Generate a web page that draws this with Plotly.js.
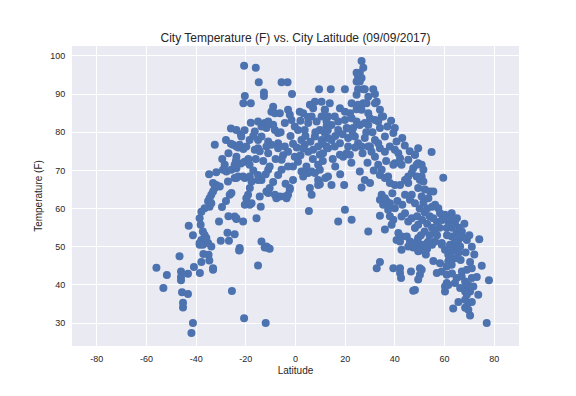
<!DOCTYPE html>
<html>
<head>
<meta charset="utf-8">
<script src="https://cdn.plot.ly/plotly-3.0.1.min.js"></script>
<style>html,body{margin:0;padding:0;background:#fff;}#chart{width:576px;height:396px;}</style>
</head>
<body>
<div id="chart"></div>
<script>
// Latitude of each city (degrees)
const latitude = [
-56,-53.2,-51.8,-46.7,-46.1,-46.1,-46.1,-43.3,-40.9,-38.5,-37.9,-37.1,-35,-34.7,-33.2,-33.2,-33.9,-38.6,-45.7,-43.3,-45.3,-45.3,-41.3,-41.9,
-43,-41.3,-33.2,-31.9,-30.5,-32.5,-33.2,-33.9,-34.6,-35.2,-33.9,-34.6,-36.6,-37.9,-38.6,-38.2,-37.3,-36.6,-35.9,-37.9,-38.6,-37.3,-35.2,-31.9,-34.8,-29.6,-30.8,-30.1,-32.5,
-28.5,-29.2,-27.8,-25.8,-23.8,-24.5,-23.8,-25.2,-23.8,-24.5,-27.2,-26.5,-25.8,-24.5,-23.8,-27.4,-24.5,-26.8,-22.5,-25.6,-22.7,-20.7,
-23.8,-21.8,-22.5,-19.8,-20.7,-20.4,-21,-18,-18,
-23,-21,-23.8,-23.1,-24,-22,-20.5,-19,-18.5,-21.1,-20.4,-19.1,-19.8,-20.4,-18.4,-17.7,-23.8,-21.1,-22.5,
-28,-26,-27,-29.5,-22,-20.5,-26,-27,-28,
-16,-14.8,-12.7,-12.7,-15.1,-12.4,-11,-13.7,-11.7,-16.4,-15.1,-13.7,-11,-15.1,-9.7,-16.4,-14.4,-11.7,-11,-11,-10.4,-15.1,-13.7,-15.1,-18.4,-17.7,-18.4,-11.7,-10.4,-11,-14.4,-14,-15.7,-13.7,-11.7,-11,-12.4,-10.4,-15.1,-12,
-9,-9.7,-8.3,-17,-18.5,-16,-13,-17,-12,
-6.3,-3,-2.3,-5.6,-3.2,-1.4,-8.3,-7,-4.3,-1.6,-0.3,-7,-4.3,-7,-5,-3,-5.6,-0.3,-1,-7,-5.6,-1,-2.3,-2.3,-3,-8.3,-7.7,-6.3,-4.3,-3.6,
-9,-6,-2,-1,-8,-3,-9,-4,
1.7,3.1,5.8,7.1,7.8,9.5,1,2.4,3.7,1,4.4,5.1,2.4,3.1,6.5,7.8,9.1,9.8,9.1,9.8,9.1,5.8,6.5,5.4,
3.7,5.1,6.5,8.5,10.5,11.8,13.1,12.5,9.8,7.8,10.5,13.1,
3.1,5.1,7.1,9.1,9.8,11.1,12.5,
2,4,6,8,5,0.5,2,7,11,12,
14.2,19.9,13.8,17.9,19.9,11.8,
15.8,17.2,19.9,22.6,24.6,25.9,23.2,20.6,17.2,14.5,12.5,
11.8,14.5,17.9,21.2,23.9,25.2,
13.1,15.8,21.2,20.6,19.2,17.9,21.9,
13.1,14.5,19.6,19.9,17.2,22.6,
16,18,15,11,13,16,19,10.5,
26.6,27.3,24.6,25.9,25.2,26.6,24.6,25.9,25.2,27.3,27.9,24.6,29.3,22.6,25.2,27.3,28.6,24.6,26.6,29.3,27.9,29.3,27.9,25.9,27.9,26.6,29.3,
26.6,29.3,30.6,32,34,
22,23,28.5,21,24,27,22.5,29,
31.3,32,32.7,32,34,30,34.7,35.3,32,33.3,34,40,39.4,36,32,33.3,40.7,30,30,34,39.4,38.7,36,34,32.7,39.4,
36,38,40,41.4,42.1,40,42.7,39.4,45.4,48.1,49.4,47.4,46.8,48.8,
33.3,34.7,34,36,37.3,38,40,42.1,44.1,45.4,45.4,
34.7,36,34,36.7,35.3,38,40,37.3,
44.1,46.8,46.1,48.1,44.1,42.7,45.4,46.8,
41.4,42.7,40.7,42.1,44.8,46.1,48.1,49.4,48.1,49.4,
42.1,42.1,42.5,46.5,47.4,42.7,45.4,47.4,49.4,50.1,50.1,49.4,
31,37,38.5,36.5,31.5,39,41,43,44,46,43,38,
48.1,49.4,48.8,50.8,51.5,50.8,50.1,51.5,49.4,52.1,54.2,55.5,50.8,53.5,56.2,58.2,62.9,64.2,64.9,69,65.6,66.3,61.5,60.9,62.9,62.2,58.9,56.2,53.5,50.8,60.2,57.5,
50,52,54,51,53,55,57,52,54,56,58,50.5,53,55.5,57,59,51.5,53,55,49,
54.8,59.5,
49,51,53,55,50,52.5,
58.9,60.2,61.5,62.9,64.9,65.6,64.2,61.5,62.9,60.9,
50.8,48.1,55.5,58.2,56.9,58.9,60.9,60.9,60.2,61.5,60.2,
64.9,64.2,66.9,68.3,66.3,68.3,69.6,71,71.6,70.3,68.3,69,73.6,
70.3,71,73,77.9,65.6,68.3,69.6,71,63.5,68.3,69.6,70.3,77,
65,66,67,68,63,62,61,67.5,70,64,71,72,68.5,66.5,69,67,63,74,75
];
// Temperature of each city (F)
const temperature = [
44.5,39.2,42.6,47.5,43.5,42.1,41.2,42.9,44.7,43.1,46,48.1,47.9,46.4,44.4,44,50.1,50.5,38.1,37.6,35.3,34.1,30,27.4,
55.5,53,66.7,66.2,65.8,65.4,64.5,63.6,62.7,61.9,61.4,60.5,60.1,59.2,57.5,55.8,54,53.1,52.3,51.8,51,50.5,51,69.5,69,60.4,56.6,51.6,76.7,
71.5,70.2,69.7,70.2,70.6,71.5,73.6,76.7,76.3,68,67.1,63.6,64.1,57.9,57.3,53.7,53.3,51.6,49.7,38.4,49,31.3,
80.6,78.9,76.7,76.3,97.4,89.5,87.6,87.6,82.5,
76,75.6,68,68.4,72.5,71.8,72.3,73,71.5,68.4,68,63.6,62.7,61,61,61.4,57.5,56.6,49.2,
78,77,74.5,73,79.5,80.5,81,58,62,
96.9,93.1,90.4,89.5,82.8,82.4,82.8,81.5,81.1,80.2,78,78.9,77.6,75.8,76.7,75.4,75,76.3,74.5,70.2,71,68.8,67.5,67.5,68.4,67.1,65.4,64.5,65.4,64.1,63.2,60.5,57.5,51.4,50.1,49.7,49.8,49.5,45.1,30,
86.7,85.4,85,79,78,73,72.5,70,69,
85,85.9,84.6,93.1,93.1,90,80.6,79.8,82.4,83.2,81.5,77.1,76.3,75.8,74,74.9,72.8,73.6,71,68.8,70.2,67.5,65.4,65,63.6,63.6,62.7,63.2,63.2,62.7,
82,80,79,77,73,71,67,66.5,
85.4,85,87.2,86.3,88,91.3,80.6,78,76.7,72.3,71,69.3,69.7,68.4,69.7,69.3,71.5,70.2,67.5,66.4,66.2,65.4,63.6,59.4,
80.6,82.4,84.1,82.8,84.1,85.9,84.1,81.5,80.6,78.9,78,78.5,
75.8,74.9,75.4,76.3,74.1,74.5,76.3,
83,79,77.5,80,84,76,74,73,72.5,68,
91.3,91.3,87.6,86.3,85.4,85.9,
84.1,82.8,83.2,83.7,82.8,81.9,81.1,81.1,80.6,81.9,82.8,
79.8,78,77.1,78.5,78.9,77.1,
75.8,76.3,76.3,74.5,73.6,74.1,74.1,
68.4,66.2,66.2,59.7,56.6,57.1,
71,69,73,77,80.5,79,79.5,88,
98.7,96.9,95.6,95.6,94.6,94.2,93.3,93.3,91.3,91.3,91.3,89.8,89.3,87.6,87.2,87.6,87.6,86,85.9,85,82.4,81.9,78.5,69.7,67.5,65.5,54,
76.3,76.3,74.9,73.6,75.8,
85,79.5,80,81,76,74.5,72,72,
91.3,90,88,87.6,85.9,83.7,84.1,84.1,83.2,82.8,81.1,81.1,79.8,78.9,78,77.1,77.6,76.3,66.7,58.1,57.1,55.8,54.5,46,44.4,44.4,
74.9,76.3,75.4,74.5,73.2,71.9,71.5,71.5,72.8,74.1,71.9,70.6,69.3,68.4,
71.5,70.2,68.8,68,68.4,66.7,66.2,66.2,67.5,66.7,68.4,
63.6,62.7,62.3,61.9,61,61.4,60.1,59.7,
63.6,63.6,62.3,61.4,58.8,57.9,56.6,57.5,
53.6,52.7,51.8,51.4,52.7,51.4,50.5,52.3,54.9,55.8,
44.4,43.1,41.8,43.5,38.5,49.2,50.1,49.8,48.8,44.4,42.7,41.4,
80,81.5,83,72.5,70,64,62,61,76.5,75,78.5,58,
74.1,75.8,71.5,71.5,70.2,68.4,67.5,67.1,65.4,65,64.5,64.5,63.2,62.7,61,58.8,58.8,56.2,53.6,51.8,51.8,50.1,56.6,54.9,52.7,50.5,51,51.4,51.4,50.5,58.4,60.1,
60,59,58,57,56,55,56.5,54,53,54,55,53,51,57.5,53,57,61.5,60,60.5,58,
74.8,68.1,
51.5,50,49.5,50.5,49,48,
50.5,49.2,47.9,48.8,49.7,48.4,47,46.2,45.3,44.8,
44,38.7,46.3,45.7,43.1,43.5,42.7,40.5,39.6,40,38.3,
41.8,40.5,42.2,40.9,39.2,39.6,40,41.8,39.6,38.3,38.3,37.4,37.4,
46,44.4,42.1,41.2,35.5,36.1,35.3,35.5,33.8,34,33.5,32,30,
57.5,55,54,56,55,57.5,53,52.5,53,51,50,48,48.5,46.5,44,43.5,43,52,45
];

const xTicks = [-80, -60, -40, -20, 0, 20, 40, 60, 80];
const yTicks = [30, 40, 50, 60, 70, 80, 90, 100];

const textColor = '#262626';
const fontFam = 'Liberation Sans, Arial, DejaVu Sans, sans-serif';

const trace = {
  x: latitude,
  y: temperature,
  type: 'scatter',
  mode: 'markers',
  marker: {color: '#4C72B0', size: 8, line: {width: 0}},
  hoverinfo: 'x+y'
};

const layout = {
  width: 576,
  height: 396,
  margin: {l: 72, r: 57, t: 46, b: 50},
  paper_bgcolor: '#ffffff',
  plot_bgcolor: '#EAEAF2',
  showlegend: false,
  font: {family: fontFam, color: textColor, size: 10},
  title: {
    text: 'City Temperature (F) vs. City Latitude (09/09/2017)',
    font: {family: fontFam, size: 12, color: textColor},
    x: 0.513, xanchor: 'center', y: 0.905, yanchor: 'middle'
  },
  xaxis: {
    range: [-90, 90],
    tickvals: xTicks,
    ticktext: xTicks.map(String),
    showgrid: true, gridcolor: '#ffffff', gridwidth: 1,
    zeroline: false, showline: false,
    ticks: 'outside', ticklen: 4, tickcolor: 'rgba(0,0,0,0)',
    tickfont: {size: 9, color: textColor, family: fontFam},
    title: {text: 'Latitude', font: {size: 10, color: textColor, family: fontFam}, standoff: 4}
  },
  yaxis: {
    range: [24, 102.6],
    tickvals: yTicks,
    ticktext: yTicks.map(String),
    showgrid: true, gridcolor: '#ffffff', gridwidth: 1,
    zeroline: false, showline: false,
    ticks: 'outside', ticklen: 4, tickcolor: 'rgba(0,0,0,0)',
    tickfont: {size: 9, color: textColor, family: fontFam},
    title: {text: 'Temperature (F)', font: {size: 10, color: textColor, family: fontFam}, standoff: 5}
  }
};

Plotly.newPlot('chart', [trace], layout, {displayModeBar: false, staticPlot: true});
</script>
</body>
</html>
